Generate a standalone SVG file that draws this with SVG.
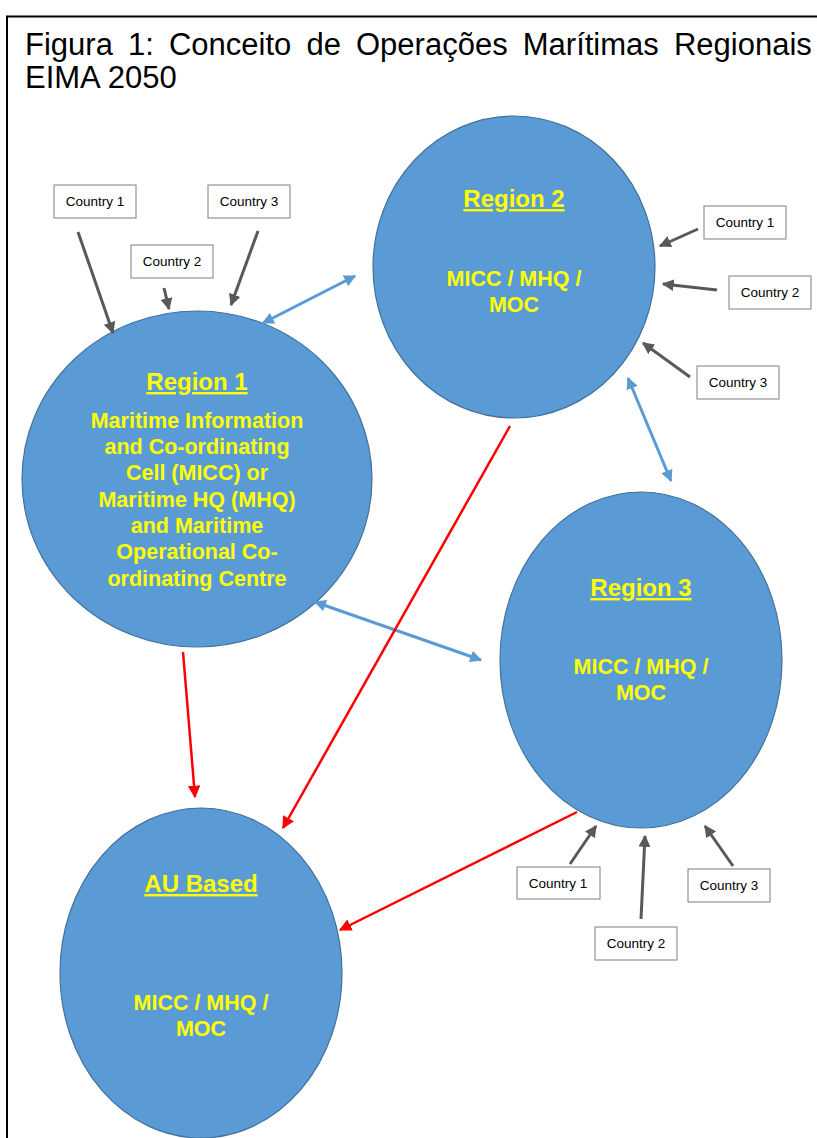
<svg xmlns="http://www.w3.org/2000/svg" width="817" height="1138" viewBox="0 0 817 1138">
<defs>
<style>
.title{font-family:"Liberation Sans",Arial,sans-serif;font-size:31px;fill:#000}
.bub{fill:#5B9BD5;stroke:#41719C;stroke-width:1.2}
.h{font-family:"Liberation Sans",Arial,sans-serif;font-weight:bold;font-size:24px;fill:#FFFF00;text-anchor:middle;text-decoration:underline}
.t{font-family:"Liberation Sans",Arial,sans-serif;font-weight:bold;font-size:21.5px;fill:#FFFF00;text-anchor:middle}
.box{fill:#fff;stroke:#7f7f7f;stroke-width:1}
.bt{font-family:"Liberation Sans",Arial,sans-serif;font-size:13.5px;fill:#000;text-anchor:middle}
.gr{stroke:#595959;stroke-width:3;fill:none;marker-end:url(#ag)}
.bl{stroke:#5B9BD5;stroke-width:3;fill:none;marker-end:url(#ab);marker-start:url(#abs)}
.rd{stroke:#FF0000;stroke-width:2.5;fill:none;marker-end:url(#ar)}
</style>
<marker id="ag" viewBox="0 0 10 10" refX="9" refY="5" markerWidth="4" markerHeight="4" orient="auto" markerUnits="strokeWidth"><path d="M0,0L10,5L0,10z" fill="#595959"/></marker>
<marker id="ab" viewBox="0 0 10 10" refX="9" refY="5" markerWidth="4" markerHeight="4" orient="auto" markerUnits="strokeWidth"><path d="M0,0L10,5L0,10z" fill="#5B9BD5"/></marker>
<marker id="abs" viewBox="0 0 10 10" refX="1" refY="5" markerWidth="4" markerHeight="4" orient="auto" markerUnits="strokeWidth"><path d="M10,0L0,5L10,10z" fill="#5B9BD5"/></marker>
<marker id="ar" viewBox="0 0 10 10" refX="9" refY="5" markerWidth="5" markerHeight="5" orient="auto" markerUnits="strokeWidth"><path d="M0,0L10,5L0,10z" fill="#FF0000"/></marker>
</defs>
<rect width="817" height="1138" fill="#fff"/>
<g id="frame">
<path d="M7,1138V16.5H817" fill="none" stroke="#000" stroke-width="2"/>
<text class="title" x="25" y="55" word-spacing="6.5">Figura 1: Conceito de Operações Marítimas Regionais</text>
<text class="title" x="25" y="88">EIMA 2050</text>
</g>
<g id="region2">
<ellipse class="bub" cx="514" cy="267" rx="141" ry="151"/>
<text class="h" x="514" y="207">Region 2</text>
<text class="t" x="514" y="286">MICC / MHQ /</text>
<text class="t" x="514" y="312">MOC</text>
</g>
<g id="region1">
<ellipse class="bub" cx="197" cy="479" rx="175" ry="168"/>
<text class="h" x="197" y="390">Region 1</text>
<text class="t" x="197" y="428">Maritime Information</text>
<text class="t" x="197" y="454">and Co-ordinating</text>
<text class="t" x="197" y="480">Cell (MICC) or</text>
<text class="t" x="197" y="507">Maritime HQ (MHQ)</text>
<text class="t" x="197" y="533">and Maritime</text>
<text class="t" x="197" y="559">Operational Co-</text>
<text class="t" x="197" y="586">ordinating Centre</text>
</g>
<g id="region3">
<ellipse class="bub" cx="641" cy="660" rx="141" ry="168"/>
<text class="h" x="641" y="596">Region 3</text>
<text class="t" x="641" y="674">MICC / MHQ /</text>
<text class="t" x="641" y="700">MOC</text>
</g>
<g id="au">
<ellipse class="bub" cx="201" cy="973" rx="141" ry="165"/>
<text class="h" x="201" y="892">AU Based</text>
<text class="t" x="201" y="1010">MICC / MHQ /</text>
<text class="t" x="201" y="1036">MOC</text>
</g>
<g id="r1-country1"><rect class="box" x="54" y="185" width="82" height="33"/><text class="bt" x="95" y="206">Country 1</text></g>
<g id="r1-country2"><rect class="box" x="131" y="245" width="82" height="33"/><text class="bt" x="172" y="266">Country 2</text></g>
<g id="r1-country3"><rect class="box" x="208" y="185" width="82" height="33"/><text class="bt" x="249" y="206">Country 3</text></g>
<g id="r2-country1"><rect class="box" x="704" y="206" width="82" height="33"/><text class="bt" x="745" y="227">Country 1</text></g>
<g id="r2-country2"><rect class="box" x="729" y="276" width="82" height="33"/><text class="bt" x="770" y="297">Country 2</text></g>
<g id="r2-country3"><rect class="box" x="697" y="366" width="82" height="33"/><text class="bt" x="738" y="387">Country 3</text></g>
<g id="r3-country1"><rect class="box" x="517" y="867" width="83" height="32"/><text class="bt" x="558" y="888">Country 1</text></g>
<g id="r3-country2"><rect class="box" x="595" y="927" width="82" height="33"/><text class="bt" x="636" y="948">Country 2</text></g>
<g id="r3-country3"><rect class="box" x="688" y="869" width="82" height="33"/><text class="bt" x="729" y="890">Country 3</text></g>
<g id="connectors">
<path class="gr" d="M78,232L113,333"/>
<path class="gr" d="M164,288L169,309"/>
<path class="gr" d="M258,231L231,305"/>
<path class="gr" d="M698,229L660,246"/>
<path class="gr" d="M717,290L663,284"/>
<path class="gr" d="M690,377L643,343"/>
<path class="gr" d="M570,864L596,826"/>
<path class="gr" d="M641,919L645,836"/>
<path class="gr" d="M733,866L705,826"/>
<path class="bl" d="M263,323L355,276"/>
<path class="bl" d="M628,378L671,481"/>
<path class="bl" d="M315,602L481,660"/>
<path class="rd" d="M183,652L195,797"/>
<path class="rd" d="M510,426L283,828"/>
<path class="rd" d="M577,812L340,930"/>
</g>
</svg>
